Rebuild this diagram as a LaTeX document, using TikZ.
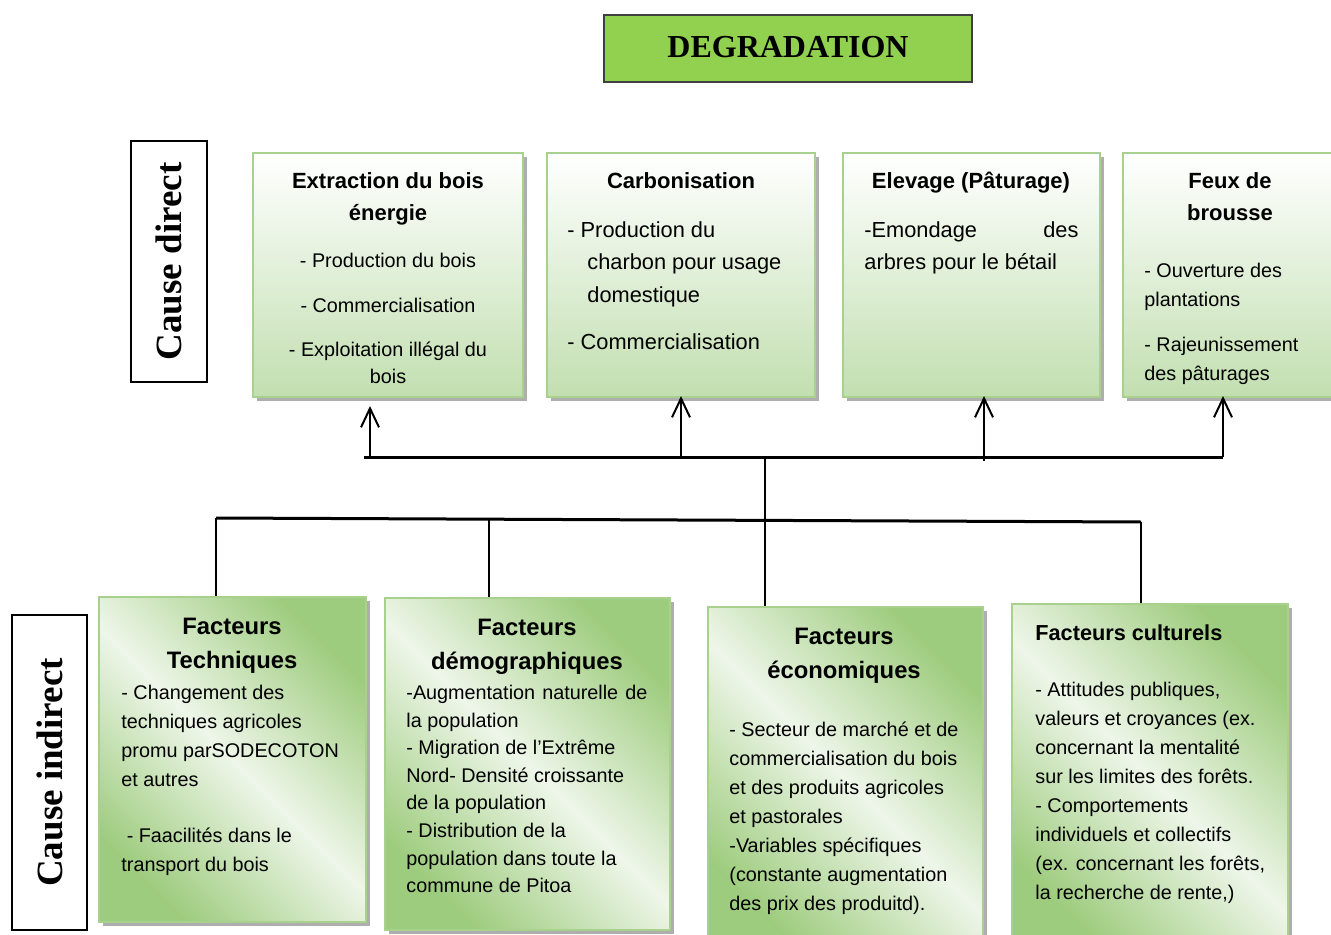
\documentclass[tikz,border=0pt]{standalone}
\usepackage{fontspec}
\setmainfont{Liberation Sans}
\newfontfamily\timesf{Liberation Serif}
\usetikzlibrary{arrows.meta,shadows}
\definecolor{boxline}{RGB}{169,209,142}
\definecolor{topgreen}{RGB}{194,223,176}
\definecolor{indgreen}{RGB}{158,204,126}
\definecolor{indlight}{RGB}{238,246,233}
\definecolor{degfill}{RGB}{146,208,80}
\newcommand\fs[2]{\fontsize{#1}{#2}\selectfont}

\begin{document}
\begin{tikzpicture}[x=0.5pt,y=-0.5pt,
  shad/.style={drop shadow={fill=black!70,opacity=.45,shadow xshift=2pt,shadow yshift=-2pt}},
  direct/.style={shad,draw=boxline,line width=1pt,top color=white,bottom color=topgreen,minimum height=122pt},
  indirect/.style={shad,draw=boxline,line width=1pt,left color=indgreen,right color=indgreen,middle color=indlight,shading angle=-45},
  cause/.style={draw,line width=1pt,fill=white,rotate=90,font=\timesf\bfseries\fs{18.5}{22}},
  head/.style={inner sep=0pt,anchor=north,align=center,font=\bfseries\fs{11}{16}},
  bighead/.style={inner sep=0pt,anchor=north,align=center,font=\bfseries\fs{11.9}{17}},
  body/.style={inner sep=0pt,anchor=north west,align=left,font=\fs{9.9}{14.5}},
  wire/.style={line width=1pt},
  bus/.style={line width=1.5pt},
  up/.style={line width=1pt,-{Straight Barb[length=9.5pt,width=9pt]}}]
  \useasboundingbox (0,0) rectangle (1331,935);
  \clip (0,0) rectangle (1331,935);

  \node[draw=black!75,line width=.6pt,fill=degfill,minimum width=184pt,minimum height=33.5pt,
    font=\timesf\bfseries\fs{16}{19}] (deg) at (788,48.5) {\raisebox{1.5pt}{DEGRADATION}};

  \node[cause,minimum width=120.5pt,minimum height=38pt] (cdir) at (169,261.5) {Cause direct};
  \node[cause,minimum width=157.5pt,minimum height=37.5pt] (cind) at (49.5,772.5) {Cause indirect};

  \node[direct,minimum width=135pt] (extr) at (388,275) {};
  \node[direct,minimum width=134pt] (carb) at (681,275) {};
  \node[direct,minimum width=128.5pt] (elev) at (971.5,275) {};
  \node[direct,minimum width=107.5pt] (feux) at (1230.5,275) {};

  \node[head] (extr-h) at (388,165.5) {\strut Extraction du bois\\énergie};
  \node[head,font=\fs{9.9}{13.5}] (extr-b) at (388,248.2)
    {\strut - Production du bois\\[9pt]- Commercialisation\\[8.5pt]- Exploitation illégal du\\bois};
  \node[head] (carb-h) at (681,165.5) {\strut Carbonisation};
  \node[body,font=\fs{10.9}{16.25}] (carb-b) at (567,214)
    {\strut - Production du\\\hspace*{10pt}charbon pour usage\\\hspace*{10pt}domestique\\[7.25pt]- Commercialisation};
  \node[head] (elev-h) at (971,165.5) {\strut Elevage (Pâturage)};
  \node[body,font=\fs{10.9}{16.25}] (elev-b) at (864,214)
    {\strut\makebox[107pt][s]{-Emondage des}\\arbres pour le bétail};
  \node[head] (feux-h) at (1230,165.5) {\strut Feux de\\brousse};
  \node[body] (feux-b) at (1144,256.8)
    {\strut - Ouverture des\\plantations\\[8pt]- Rajeunissement\\des pâturages};

  \node[indirect,minimum width=133.5pt,minimum height=162.5pt] (tech) at (232.5,759.5) {};
  \node[indirect,minimum width=142.5pt,minimum height=166pt] (demo) at (527.5,764) {};
  \node[indirect,minimum width=137.5pt,minimum height=171.5pt] (econ) at (845.5,778.5) {};
  \node[indirect,minimum width=138pt,minimum height=173pt] (cult) at (1150,777) {};

  \node[bighead] (tech-h) at (232,610.7) {\strut Facteurs\\Techniques};
  \node[body] (tech-b) at (121,678.8)
    {\strut - Changement des\\techniques agricoles\\promu parSODECOTON\\et autres\\[13.5pt]\hspace*{2.7pt}- Faacilités dans le\\transport du bois};
  \node[bighead] (demo-h) at (527,611.7) {\strut Facteurs\\démographiques};
  \node[body,font=\fs{9.9}{13.8}] (demo-b) at (406,679.8)
    {\strut\makebox[120.5pt][s]{-Augmentation naturelle de}\\la population\\- Migration de l’Extrême\\Nord- Densité croissante\\de la population\\- Distribution de la\\population dans toute la\\commune de Pitoa};
  \node[bighead] (econ-h) at (844,620.7) {\strut Facteurs\\économiques};
  \node[body] (econ-b) at (729,715.8)
    {\strut - Secteur de marché et de\\commercialisation du bois\\et des produits agricoles\\et pastorales\\-Variables spécifiques\\(constante augmentation\\des prix des produitd).};
  \node[body,font=\bfseries\fs{10.85}{16}] (cult-h) at (1035,617.4) {\strut Facteurs culturels};
  \node[body] (cult-b) at (1035,675.8)
    {\strut - Attitudes publiques,\\valeurs et croyances (ex.\\concernant la mentalité\\sur les limites des forêts.\\- Comportements\\individuels et collectifs\\(ex. concernant les forêts,\\la recherche de rente,)};

  \coordinate (ub1) at (364,457);
  \coordinate (ub2) at (1223,457);
  \draw[bus] (ub1) -- (ub2);
  \foreach \n/\x/\y/\s in {extr/370/457/4pt,carb/681/457/-1pt,elev/984/461/-1pt,feux/1223/457/-1pt}
    \draw[up,shorten >=\s] (\x,\y) -- (\x,0 |- \n.south);

  \coordinate (trunk) at (765,457);
  \draw[wire] (trunk) -- (trunk |- econ.north);

  \coordinate (lb1) at (216,518);
  \coordinate (lb2) at (1141,522);
  \draw[bus] (lb1) -- (lb2);
  \draw[wire] (lb1) -- (lb1 |- tech.north);
  \draw[wire] (489,520) -- (489,0 |- demo.north);
  \draw[wire] (lb2) -- (lb2 |- cult.north);
\end{tikzpicture}
\end{document}
